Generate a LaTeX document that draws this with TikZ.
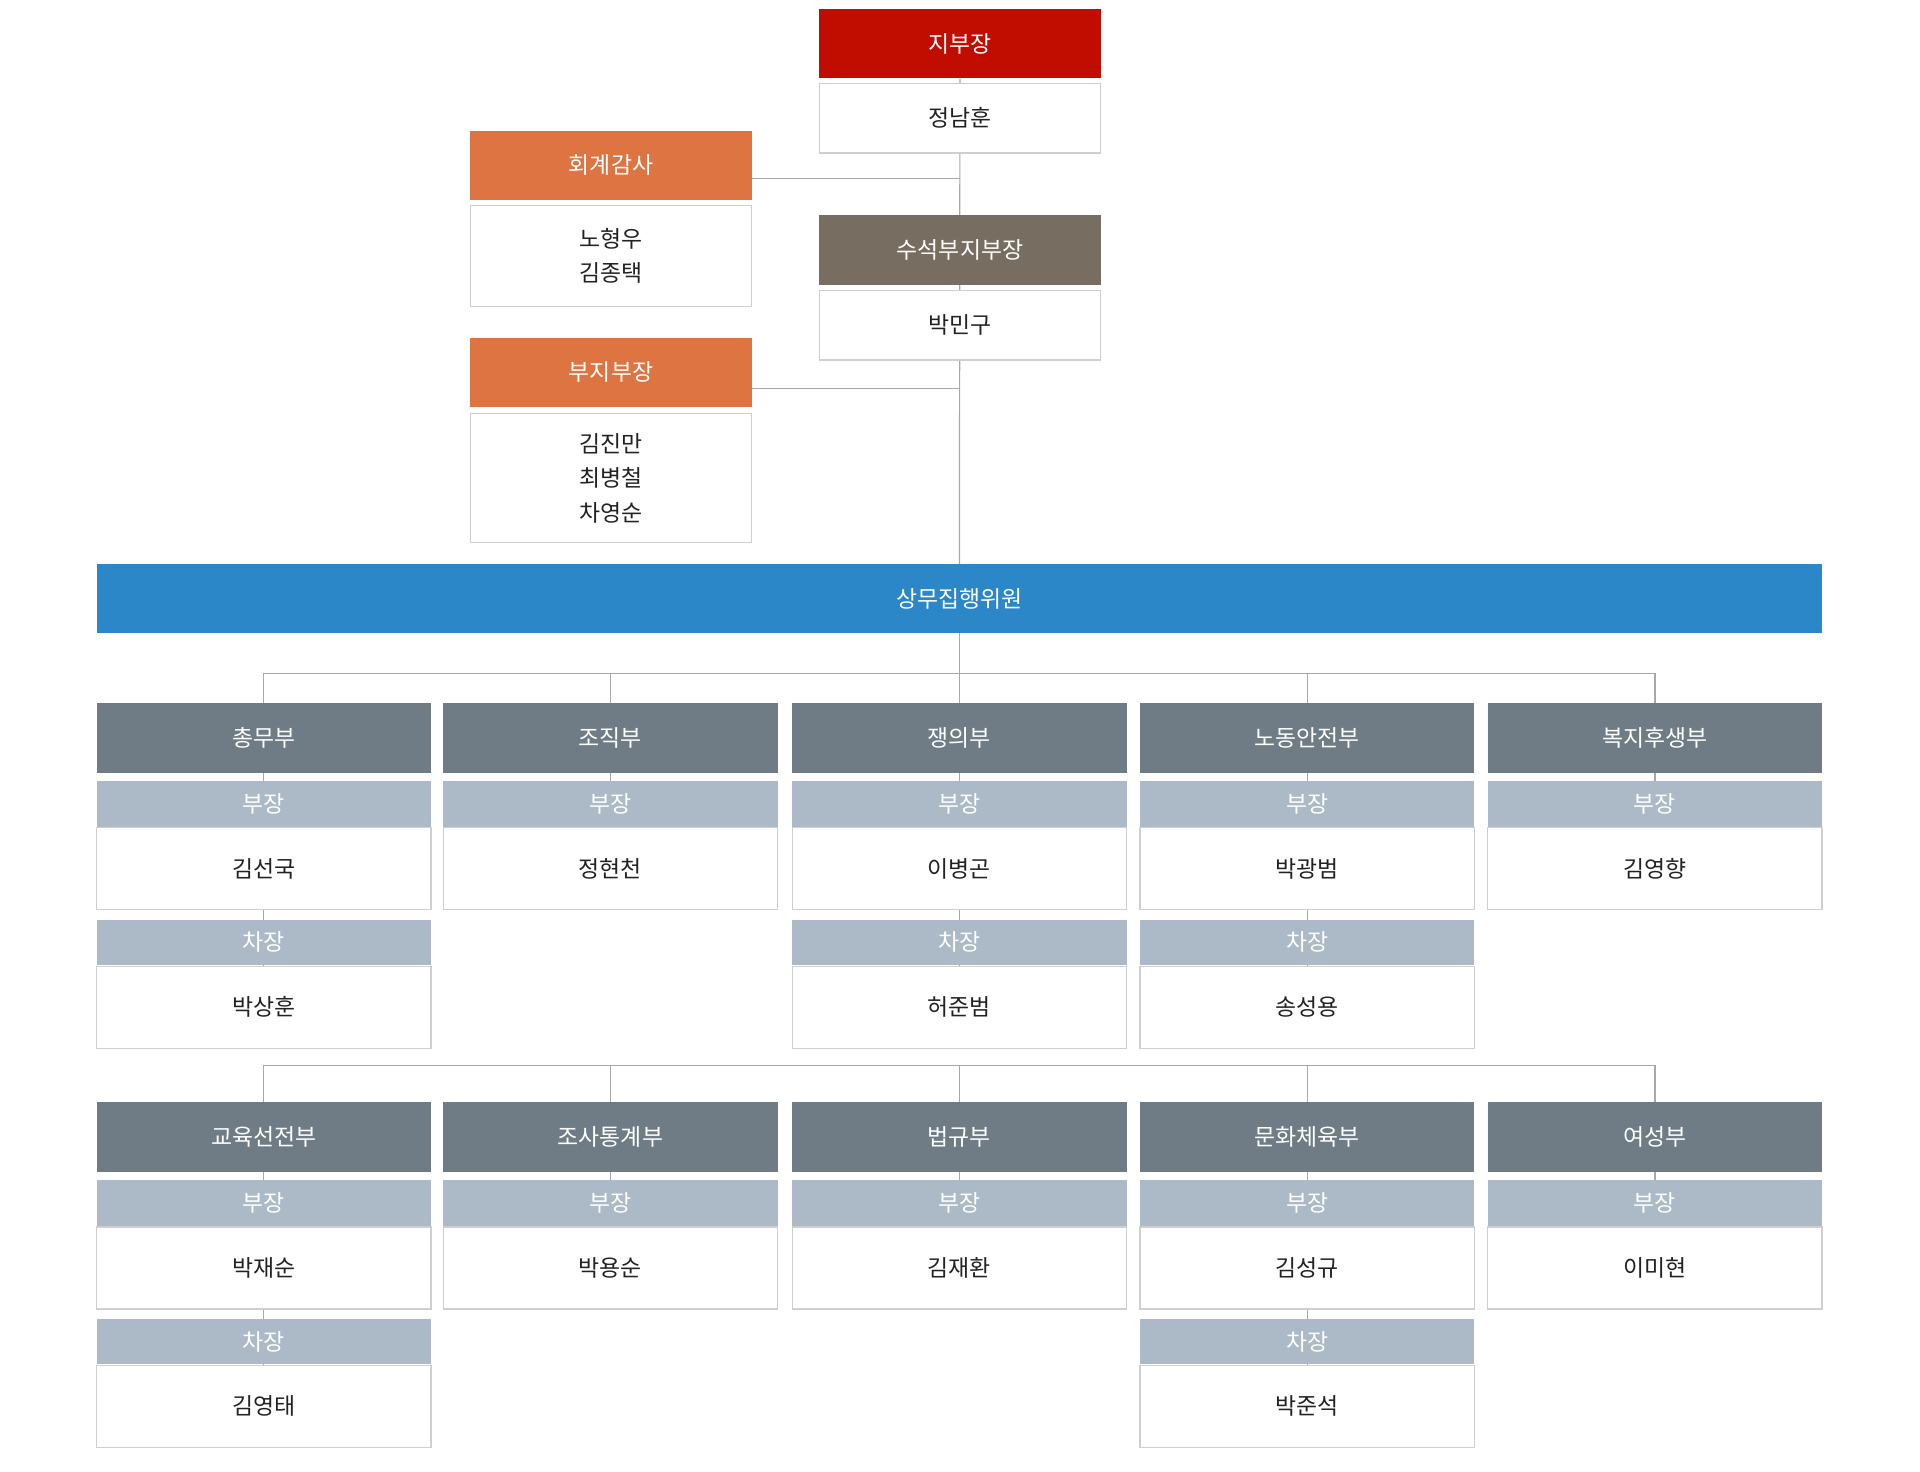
\documentclass[tikz,border=0pt]{standalone}
\usepackage{fontspec}
\setmainfont{Noto Sans CJK KR}
\usetikzlibrary{backgrounds}

\definecolor{chiefred}{HTML}{C10D00}
\definecolor{auditorange}{HTML}{DE7441}
\definecolor{seniorbrown}{HTML}{776D60}
\definecolor{councilblue}{HTML}{2B87C8}
\definecolor{deptslate}{HTML}{6F7C86}
\definecolor{roleblue}{HTML}{ABBAC6}
\definecolor{boxgray}{HTML}{CFCFCF}
\definecolor{linkgray}{HTML}{A8A8A8}
\definecolor{nametext}{HTML}{222222}

\begin{document}
\begin{tikzpicture}[
    x=0.025cm, y=-0.025cm,
    every node/.style={font=\fontsize{13.3}{20}\selectfont},
    box/.style={rectangle, inner sep=0pt, align=center},
    title/.style={box, text=white, minimum width=5.75cm, minimum height=1.425cm},
    chief/.style={title, fill=chiefred},
    officer/.style={title, fill=auditorange},
    senior/.style={title, fill=seniorbrown},
    person/.style={box, fill=white, draw=boxgray, line width=0.7pt, text=nametext, minimum width=5.75cm},
    council/.style={box, fill=councilblue, text=white, minimum width=35.225cm, minimum height=1.4cm},
    dept/.style={box, fill=deptslate, text=white, minimum width=6.825cm, minimum height=1.425cm},
    role/.style={box, fill=roleblue, text=white, minimum width=6.825cm, minimum height=0.925cm},
    member/.style={box, fill=white, draw=boxgray, line width=0.7pt, text=nametext, minimum width=6.825cm, minimum height=1.675cm},
    link/.style={draw=linkgray, line width=0.7pt}
]
\useasboundingbox (0,0) rectangle (1568,1202);

% Leaders
\node[chief] (chief) at (784,35.5) {지부장};
\node[person, minimum height=1.425cm] (chiefName) at (784,96.5) {정남훈};
\node[senior] (senior) at (784,204.5) {수석부지부장};
\node[person, minimum height=1.425cm] (seniorName) at (784,265.5) {박민구};

% Audit and vice chairs
\node[officer, minimum height=1.4cm] (audit) at (499,135) {회계감사};
\node[person, minimum height=2.05cm] (auditName) at (499,209) {노형우\\김종택};
\node[officer, minimum height=1.4cm] (vice) at (499,304) {부지부장};
\node[person, minimum height=2.625cm] (viceName) at (499,390.5) {김진만\\최병철\\차영순};

% Standing committee
\node[council] (council) at (783.5,489) {상무집행위원};
\coordinate (busA) at (783.5,550);
\coordinate (busB) at (783.5,870);

% Departments, first row
\node[dept] (d1) at (215.5,602.5) {총무부};
\node[role] (d1r) at (215.5,656.5) {부장};
\node[member] (d1n) at (215.5,709.5) {김선국};
\node[role] (d1s) at (215.5,769.5) {차장};
\node[member] (d1m) at (215.5,822.5) {박상훈};

\node[dept] (d2) at (498.5,602.5) {조직부};
\node[role] (d2r) at (498.5,656.5) {부장};
\node[member] (d2n) at (498.5,709.5) {정현천};

\node[dept] (d3) at (783.5,602.5) {쟁의부};
\node[role] (d3r) at (783.5,656.5) {부장};
\node[member] (d3n) at (783.5,709.5) {이병곤};
\node[role] (d3s) at (783.5,769.5) {차장};
\node[member] (d3m) at (783.5,822.5) {허준범};

\node[dept] (d4) at (1067.5,602.5) {노동안전부};
\node[role] (d4r) at (1067.5,656.5) {부장};
\node[member] (d4n) at (1067.5,709.5) {박광범};
\node[role] (d4s) at (1067.5,769.5) {차장};
\node[member] (d4m) at (1067.5,822.5) {송성용};

\node[dept] (d5) at (1351.5,602.5) {복지후생부};
\node[role] (d5r) at (1351.5,656.5) {부장};
\node[member] (d5n) at (1351.5,709.5) {김영향};

% Departments, second row
\node[dept] (d6) at (215.5,928.5) {교육선전부};
\node[role] (d6r) at (215.5,982.5) {부장};
\node[member] (d6n) at (215.5,1035.5) {박재순};
\node[role] (d6s) at (215.5,1095.5) {차장};
\node[member] (d6m) at (215.5,1148.5) {김영태};

\node[dept] (d7) at (498.5,928.5) {조사통계부};
\node[role] (d7r) at (498.5,982.5) {부장};
\node[member] (d7n) at (498.5,1035.5) {박용순};

\node[dept] (d8) at (783.5,928.5) {법규부};
\node[role] (d8r) at (783.5,982.5) {부장};
\node[member] (d8n) at (783.5,1035.5) {김재환};

\node[dept] (d9) at (1067.5,928.5) {문화체육부};
\node[role] (d9r) at (1067.5,982.5) {부장};
\node[member] (d9n) at (1067.5,1035.5) {김성규};
\node[role] (d9s) at (1067.5,1095.5) {차장};
\node[member] (d9m) at (1067.5,1148.5) {박준석};

\node[dept] (d10) at (1351.5,928.5) {여성부};
\node[role] (d10r) at (1351.5,982.5) {부장};
\node[member] (d10n) at (1351.5,1035.5) {이미현};

% Connections behind the boxes
\begin{scope}[on background layer]
\draw[link] (chief) -- (council);
\draw[link] ([yshift=-0.275cm]audit.east) -- ([yshift=-0.275cm]audit.east -| chief);
\draw[link] ([yshift=-0.325cm]vice.east) -- ([yshift=-0.325cm]vice.east -| chief);

\draw[link] (council) -- (busA);
\draw[link] (d1 |- busA) -- (d5 |- busA);
\draw[link] (d1 |- busA) -- (d1m);
\draw[link] (d2 |- busA) -- (d2n);
\draw[link] (d3 |- busA) -- (d3m);
\draw[link] (d4 |- busA) -- (d4m);
\draw[link] (d5 |- busA) -- (d5n);

\draw[link] (d6 |- busB) -- (d10 |- busB);
\draw[link] (d6 |- busB) -- (d6m);
\draw[link] (d7 |- busB) -- (d7n);
\draw[link] (d8 |- busB) -- (d8n);
\draw[link] (d9 |- busB) -- (d9m);
\draw[link] (d10 |- busB) -- (d10n);
\end{scope}

\end{tikzpicture}
\end{document}
